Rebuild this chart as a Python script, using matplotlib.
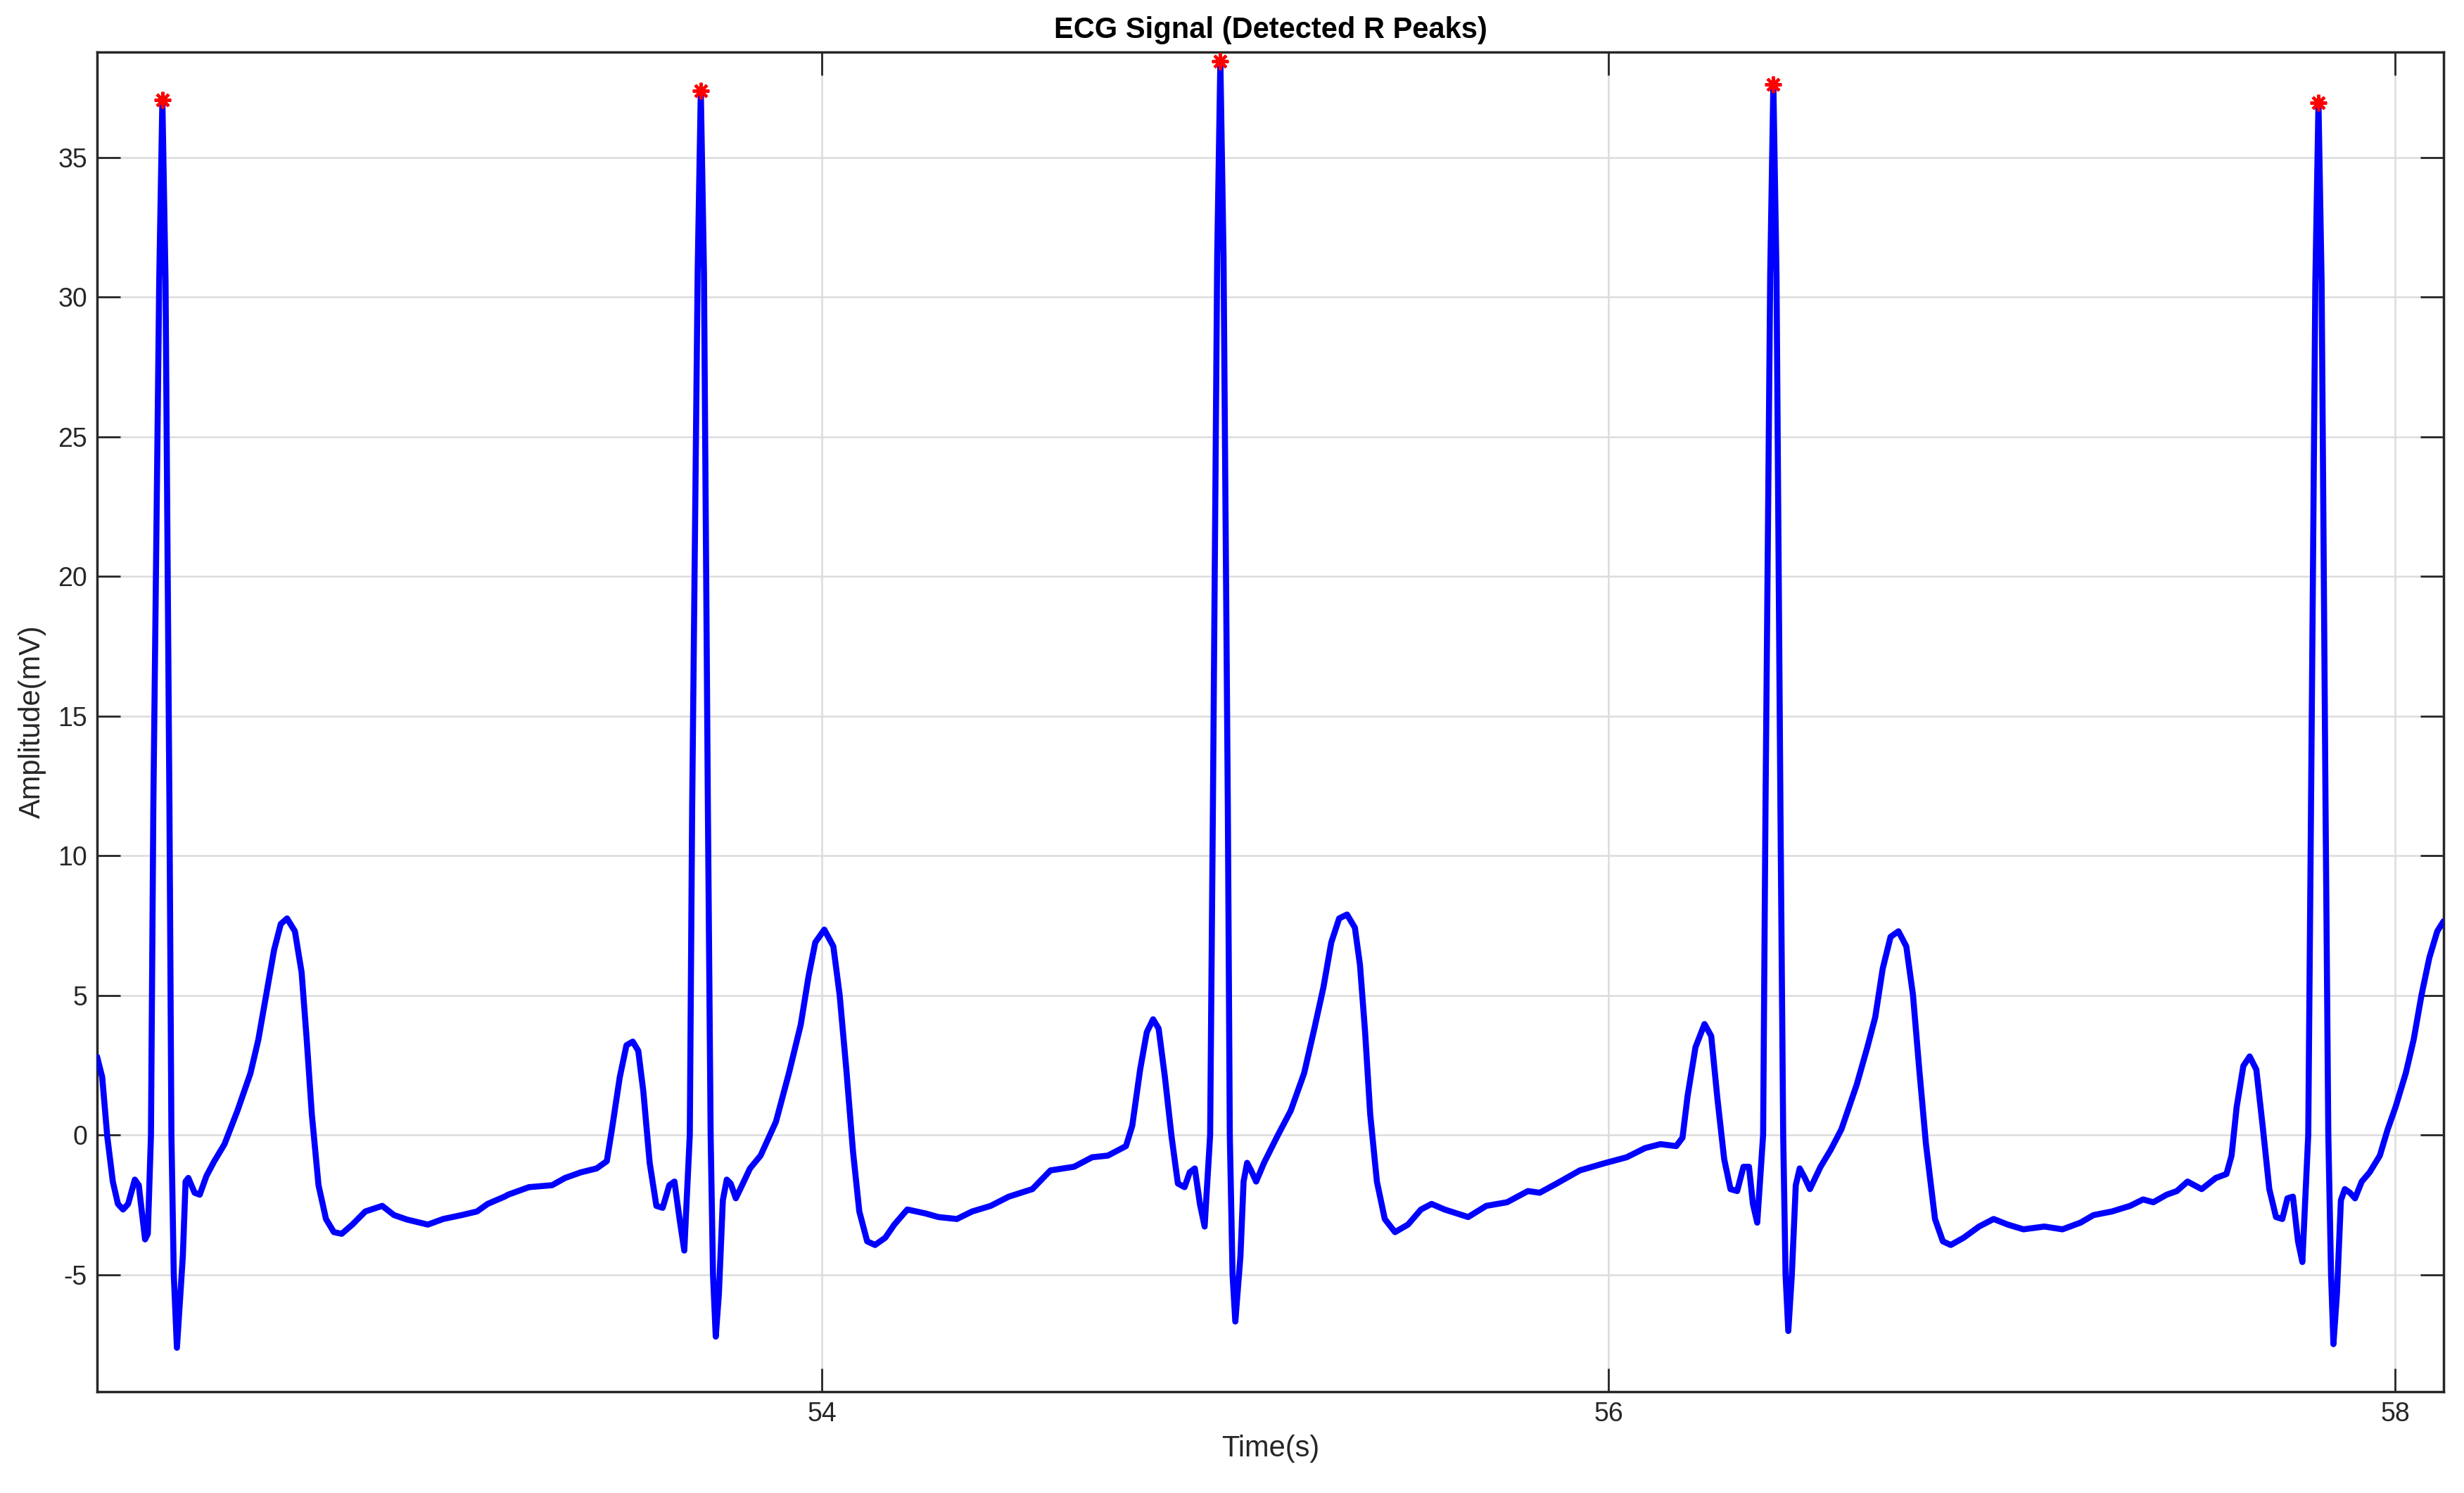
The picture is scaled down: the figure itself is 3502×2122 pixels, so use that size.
import matplotlib.pyplot as plt
import numpy as np

# ECG trace: (time in s, amplitude in mV), one list per beat
beat1 = [(52.157, 2.80), (52.170, 2.07), (52.183, -0.07), (52.197, -1.67), (52.210, -2.47),
         (52.223, -2.67), (52.236, -2.47), (52.253, -1.60), (52.263, -1.80), (52.279, -3.74),
         (52.286, -3.54), (52.294, 0.0), (52.300, 11.7), (52.315, 30.6), (52.323, 37.05),
         (52.331, 30.6), (52.341, 11.7), (52.346, 0.0), (52.352, -5.0), (52.360, -7.62),
         (52.375, -4.35), (52.382, -1.67), (52.389, -1.54), (52.405, -2.07), (52.418, -2.14),
         (52.435, -1.47), (52.455, -0.94), (52.481, -0.33), (52.514, 0.87), (52.547, 2.21),
         (52.567, 3.41), (52.587, 5.01), (52.607, 6.62), (52.624, 7.55), (52.640, 7.75),
         (52.660, 7.29), (52.677, 5.82), (52.690, 3.41), (52.703, 0.74), (52.720, -1.80),
         (52.739, -3.01), (52.759, -3.48), (52.779, -3.54), (52.806, -3.21), (52.839, -2.74),
         (52.882, -2.54), (52.912, -2.87), (52.945, -3.03), (52.998, -3.21), (53.037, -3.01),
         (53.084, -2.87), (53.123, -2.74), (53.150, -2.47), (53.193, -2.21)]

beat2 = [(53.202, -2.14), (53.255, -1.87), (53.314, -1.80), (53.347, -1.54), (53.387, -1.34),
         (53.427, -1.20), (53.453, -0.94), (53.466, 0.20), (53.486, 2.07), (53.503, 3.21),
         (53.519, 3.34), (53.533, 3.01), (53.546, 1.54), (53.562, -1.00), (53.579, -2.54),
         (53.595, -2.61), (53.612, -1.80), (53.625, -1.67), (53.638, -3.01), (53.650, -4.14),
         (53.664, 0.0), (53.670, 11.7), (53.684, 30.9), (53.692, 37.37), (53.700, 30.9),
         (53.710, 11.7), (53.717, 0.0), (53.723, -5.0), (53.730, -7.22), (53.738, -5.68),
         (53.748, -2.34), (53.758, -1.60), (53.768, -1.74), (53.781, -2.27), (53.797, -1.80),
         (53.817, -1.20), (53.844, -0.74), (53.883, 0.47), (53.916, 2.21), (53.946, 3.94),
         (53.966, 5.68), (53.983, 6.89), (54.006, 7.35), (54.029, 6.75), (54.045, 5.01),
         (54.062, 2.34), (54.079, -0.60), (54.095, -2.74), (54.115, -3.81), (54.135, -3.94),
         (54.161, -3.68)]

beat3 = [(54.184, -3.21), (54.217, -2.67), (54.263, -2.81), (54.296, -2.94), (54.343, -3.01),
         (54.382, -2.74), (54.429, -2.54), (54.475, -2.21), (54.535, -1.94), (54.581, -1.27),
         (54.641, -1.14), (54.687, -0.80), (54.727, -0.74), (54.773, -0.40), (54.789, 0.33),
         (54.809, 2.34), (54.826, 3.68), (54.842, 4.14), (54.856, 3.81), (54.872, 2.07),
         (54.889, -0.07), (54.905, -1.74), (54.922, -1.87), (54.935, -1.34), (54.948, -1.20),
         (54.961, -2.47), (54.973, -3.28), (54.987, 0.0), (54.994, 11.7), (55.005, 31.5),
         (55.013, 38.45), (55.021, 31.5), (55.032, 11.7), (55.037, 0.0), (55.044, -5.0),
         (55.051, -6.68), (55.064, -4.35), (55.072, -1.67), (55.081, -1.00), (55.091, -1.27),
         (55.104, -1.67), (55.124, -1.00), (55.157, -0.07), (55.192, 0.87), (55.226, 2.21),
         (55.252, 3.81), (55.275, 5.28), (55.295, 6.89), (55.315, 7.75), (55.335, 7.89),
         (55.355, 7.42), (55.368, 6.08), (55.381, 3.68), (55.394, 0.74), (55.411, -1.67),
         (55.431, -3.01), (55.457, -3.48), (55.490, -3.21), (55.523, -2.67), (55.550, -2.47),
         (55.583, -2.67), (55.643, -2.94), (55.689, -2.54), (55.742, -2.41), (55.795, -2.01),
         (55.825, -2.07), (55.868, -1.74), (55.927, -1.27), (55.993, -1.00), (56.046, -0.80),
         (56.093, -0.47), (56.132, -0.33), (56.172, -0.40)]

beat4 = [(56.188, -0.10), (56.201, 1.40), (56.221, 3.14), (56.244, 3.97), (56.261, 3.54),
         (56.277, 1.27), (56.294, -0.87), (56.310, -1.94), (56.327, -2.01), (56.343, -1.14),
         (56.357, -1.14), (56.367, -2.47), (56.378, -3.14), (56.393, 0.0), (56.399, 11.7),
         (56.411, 30.8), (56.419, 37.60), (56.427, 30.8), (56.437, 11.7), (56.444, 0.0),
         (56.450, -5.0), (56.457, -7.02), (56.466, -5.01), (56.476, -1.80), (56.486, -1.20),
         (56.499, -1.54), (56.512, -1.94), (56.539, -1.14), (56.565, -0.53), (56.592, 0.20),
         (56.631, 1.80), (56.658, 3.14), (56.678, 4.21), (56.697, 5.95), (56.717, 7.09),
         (56.737, 7.29), (56.757, 6.75), (56.774, 5.01), (56.790, 2.34), (56.807, -0.33),
         (56.830, -3.01), (56.850, -3.81), (56.870, -3.94), (56.903, -3.68), (56.942, -3.28),
         (56.979, -3.01), (57.015, -3.21), (57.055, -3.38), (57.108, -3.28), (57.154, -3.38),
         (57.200, -3.14)]

beat5 = [(57.233, -2.87), (57.280, -2.74), (57.326, -2.54), (57.359, -2.31), (57.385, -2.41),
         (57.419, -2.14), (57.445, -2.01), (57.472, -1.67), (57.508, -1.94), (57.544, -1.54),
         (57.571, -1.40), (57.584, -0.74), (57.597, 1.00), (57.614, 2.47), (57.630, 2.81),
         (57.647, 2.34), (57.663, 0.33), (57.680, -1.94), (57.697, -2.94), (57.713, -3.01),
         (57.726, -2.27), (57.740, -2.21), (57.753, -3.81), (57.764, -4.55), (57.779, 0.0),
         (57.786, 11.7), (57.797, 30.5), (57.805, 36.95), (57.813, 30.5), (57.823, 11.7),
         (57.830, 0.0), (57.837, -5.0), (57.843, -7.49), (57.852, -5.68), (57.862, -2.34),
         (57.872, -1.94), (57.885, -2.07), (57.898, -2.27), (57.915, -1.67), (57.935, -1.34),
         (57.961, -0.74), (57.981, 0.20), (58.001, 1.00), (58.027, 2.21), (58.047, 3.41),
         (58.067, 5.01), (58.087, 6.35), (58.107, 7.29), (58.123, 7.65)]

# detected R peaks
peak_times = [52.323, 53.692, 55.013, 56.419, 57.805]
peak_amps = [37.05, 37.37, 38.45, 37.60, 36.95]

x_ticks = [54, 56, 58]
y_ticks = [-5, 0, 5, 10, 15, 20, 25, 30, 35]

plt.rcParams['font.family'] = ['Liberation Sans', 'DejaVu Sans']
plt.rcParams['axes.unicode_minus'] = False

trace = np.array(beat1 + beat2 + beat3 + beat4 + beat5)

fig = plt.figure(figsize=(35.02, 21.22), dpi=100)
ax = fig.add_axes([0.0394, 0.0679, 0.9523, 0.8973])

ax.plot(trace[:, 0], trace[:, 1], color='blue', linewidth=6.2,
        solid_joinstyle='round', solid_capstyle='round', zorder=3)
ax.plot(peak_times, peak_amps, linestyle='none', marker=(8, 2, 0),
        markersize=17, markeredgecolor='red', markeredgewidth=3, zorder=4)

ax.set_xlim(52.157, 58.123)
ax.set_ylim(-9.19, 38.77)
ax.set_xticks(x_ticks)
ax.set_yticks(y_ticks)

ax.grid(True, color='#dcdcdc', linewidth=1.8)
ax.set_axisbelow(True)
for side in ax.spines.values():
    side.set_color('#262626')
    side.set_linewidth(2.5)
ax.tick_params(direction='in', length=24, width=2, colors='#262626',
               top=True, right=True, labelsize=27, pad=10)

ax.set_title('ECG Signal (Detected R Peaks)', fontsize=30, fontweight='bold', pad=14)
ax.set_xlabel('Time(s)', fontsize=30, color='#262626', labelpad=8)
ax.set_ylabel('Amplitude(mV)', fontsize=30, color='#262626', labelpad=12)

fig.savefig('out.png')
plt.close(fig)
